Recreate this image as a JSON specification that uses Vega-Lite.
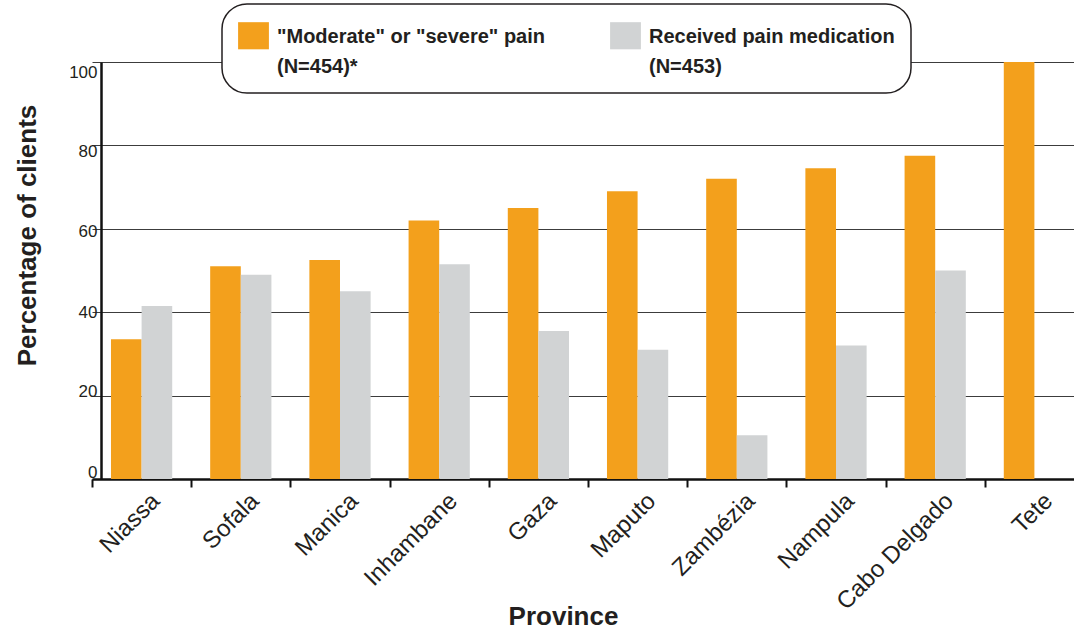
{
  "$schema": "https://vega.github.io/schema/vega-lite/v6.json",
  "autosize": {"type": "none"},
  "padding": {"left": 101, "top": 62, "right": 0, "bottom": 153},
  "width": 973,
  "height": 417,
  "background": "white",
  "view": {"stroke": null},
  "data": {
    "values": [
      {"province": "Niassa", "series": "\"Moderate\" or \"severe\" pain (N=454)*", "pct": 33.5},
      {"province": "Niassa", "series": "Received pain medication (N=453)", "pct": 41.5},
      {"province": "Sofala", "series": "\"Moderate\" or \"severe\" pain (N=454)*", "pct": 51},
      {"province": "Sofala", "series": "Received pain medication (N=453)", "pct": 49},
      {"province": "Manica", "series": "\"Moderate\" or \"severe\" pain (N=454)*", "pct": 52.5},
      {"province": "Manica", "series": "Received pain medication (N=453)", "pct": 45},
      {"province": "Inhambane", "series": "\"Moderate\" or \"severe\" pain (N=454)*", "pct": 62},
      {"province": "Inhambane", "series": "Received pain medication (N=453)", "pct": 51.5},
      {"province": "Gaza", "series": "\"Moderate\" or \"severe\" pain (N=454)*", "pct": 65},
      {"province": "Gaza", "series": "Received pain medication (N=453)", "pct": 35.5},
      {"province": "Maputo", "series": "\"Moderate\" or \"severe\" pain (N=454)*", "pct": 69},
      {"province": "Maputo", "series": "Received pain medication (N=453)", "pct": 31},
      {"province": "Zambézia", "series": "\"Moderate\" or \"severe\" pain (N=454)*", "pct": 72},
      {"province": "Zambézia", "series": "Received pain medication (N=453)", "pct": 10.5},
      {"province": "Nampula", "series": "\"Moderate\" or \"severe\" pain (N=454)*", "pct": 74.5},
      {"province": "Nampula", "series": "Received pain medication (N=453)", "pct": 32},
      {"province": "Cabo Delgado", "series": "\"Moderate\" or \"severe\" pain (N=454)*", "pct": 77.5},
      {"province": "Cabo Delgado", "series": "Received pain medication (N=453)", "pct": 50},
      {"province": "Tete", "series": "\"Moderate\" or \"severe\" pain (N=454)*", "pct": 100}
    ]
  },
  "mark": {"type": "bar"},
  "encoding": {
    "x": {
      "field": "province",
      "type": "nominal",
      "sort": null,
      "scale": {"range": [-9, 983], "paddingInner": 0, "paddingOuter": 0},
      "axis": {
        "title": "Province",
        "titleFont": "Liberation Sans",
        "titleFontSize": 26,
        "titleFontWeight": "bold",
        "titleColor": "#231f20",
        "titleX": 462,
        "titleY": 145,
        "titleBaseline": "alphabetic",
        "titleAlign": "center",
        "domain": true,
        "domainColor": "#111111",
        "domainWidth": 2.5,
        "ticks": true,
        "tickBand": "extent",
        "tickSize": 8,
        "tickWidth": 2,
        "tickColor": "#111111",
        "grid": false,
        "labelAngle": -45,
        "labelAlign": "right",
        "labelBaseline": "middle",
        "labelFont": "Liberation Sans",
        "labelFontSize": 24,
        "labelColor": "#231f20",
        "labelPadding": 10,
        "labelOffset": 14
      }
    },
    "xOffset": {
      "field": "series",
      "type": "nominal",
      "sort": null,
      "scale": {"paddingInner": 0, "paddingOuter": 0.62}
    },
    "y": {
      "field": "pct",
      "type": "quantitative",
      "scale": {"domain": [0, 100], "nice": false},
      "axis": {
        "title": "Percentage of clients",
        "titleFont": "Liberation Sans",
        "titleFontSize": 26,
        "titleFontWeight": "bold",
        "titleColor": "#231f20",
        "titleX": -66,
        "titleY": 173,
        "titleAngle": -90,
        "titleBaseline": "alphabetic",
        "titleAlign": "center",
        "values": [0, 20, 40, 60, 80, 100],
        "domain": true,
        "domainColor": "#111111",
        "domainWidth": 2.5,
        "ticks": false,
        "grid": true,
        "gridColor": "#3c3c3c",
        "gridWidth": 1.2,
        "labelFont": "Liberation Sans",
        "labelFontSize": 17,
        "labelColor": "#231f20",
        "labelPadding": 4,
        "labelOffset": {
          "condition": [
            {"test": "datum.value == 0", "value": -7},
            {"test": "datum.value == 20", "value": -4},
            {"test": "datum.value == 60", "value": 3},
            {"test": "datum.value == 80", "value": 6},
            {"test": "datum.value == 100", "value": 10}
          ],
          "value": 0
        }
      }
    },
    "color": {
      "field": "series",
      "type": "nominal",
      "sort": null,
      "scale": {
        "domain": ["\"Moderate\" or \"severe\" pain (N=454)*", "Received pain medication (N=453)"],
        "range": ["#f3a01c", "#d1d3d4"]
      },
      "legend": {
        "title": null,
        "orient": "none",
        "legendX": 121,
        "legendY": -58,
        "direction": "horizontal",
        "columns": 2,
        "columnPadding": 64,
        "padding": 16,
        "fillColor": "white",
        "strokeColor": "#231f20",
        "cornerRadius": 25,
        "symbolType": "M-1,-0.88H1V0.88H-1Z",
        "symbolSize": 950,
        "symbolStrokeWidth": 0,
        "symbolOpacity": 1,
        "labelFont": "Liberation Sans",
        "labelFontSize": 20,
        "labelFontWeight": "bold",
        "labelColor": "#231f20",
        "labelLimit": 500,
        "labelOffset": 8,
        "labelBaseline": "alphabetic",
        "labelExpr": "[slice(datum.label, 0, indexof(datum.label, ' (N')), slice(datum.label, indexof(datum.label, ' (N') + 1)]",
        "encode": {
          "legend": {"update": {"strokeWidth": {"value": 1.5}}},
          "labels": {"update": {"dy": {"value": 7}, "lineHeight": {"value": 30}}}
        }
      }
    }
  }
}
